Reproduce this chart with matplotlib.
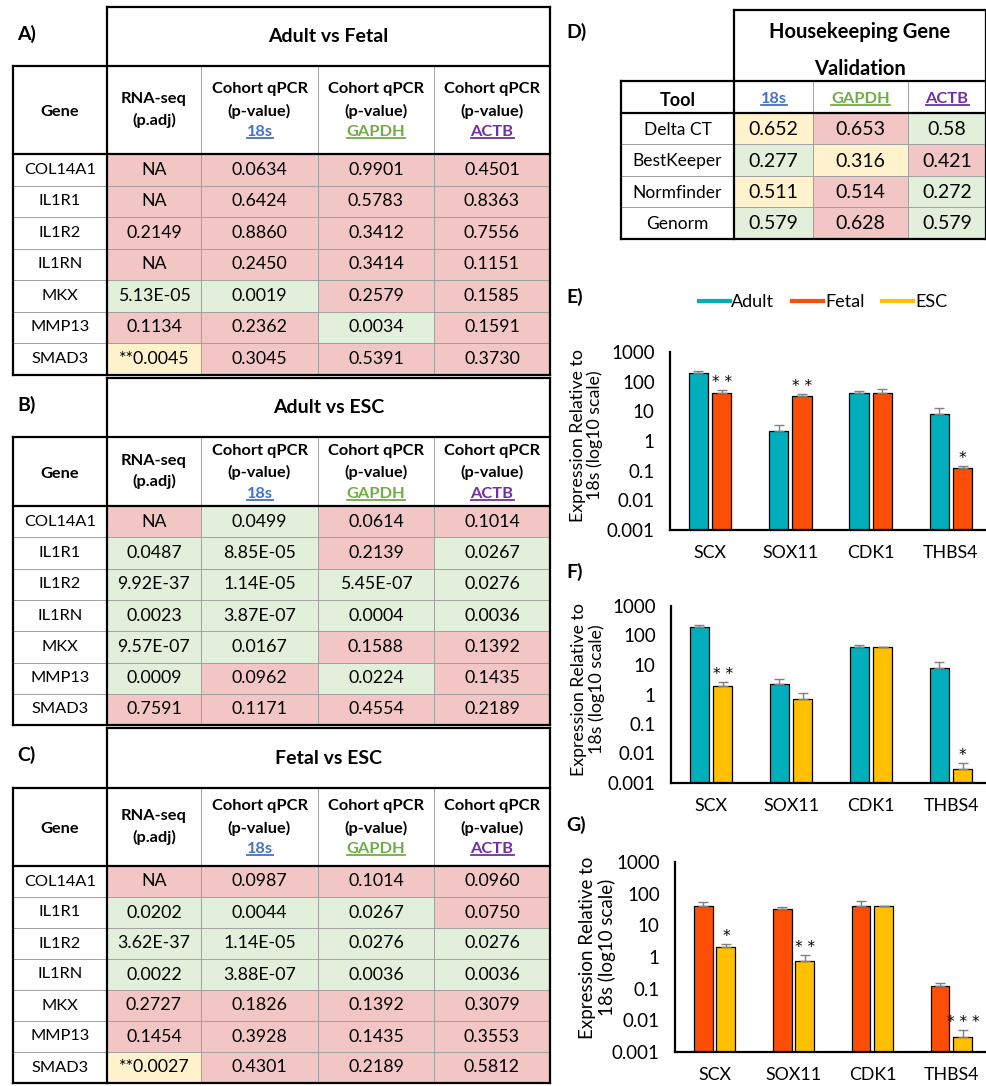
import matplotlib
matplotlib.use("Agg")
import matplotlib.pyplot as plt
from matplotlib.patches import Rectangle
from matplotlib.lines import Line2D

plt.rcParams['font.family'] = ['Lato', 'DejaVu Sans']

W, H = 987, 1086

# --------------------------
# Table data
# --------------------------
genes = ["COL14A1", "IL1R1", "IL1R2", "IL1RN", "MKX", "MMP13", "SMAD3"]
ref_genes = ["18s", "GAPDH", "ACTB"]
ref_colors = ["#4472C4", "#70AD47", "#7030A0"]

adult_fetal_vals = [
    ["NA", "0.0634", "0.9901", "0.4501"],
    ["NA", "0.6424", "0.5783", "0.8363"],
    ["0.2149", "0.8860", "0.3412", "0.7556"],
    ["NA", "0.2450", "0.3414", "0.1151"],
    ["5.13E-05", "0.0019", "0.2579", "0.1585"],
    ["0.1134", "0.2362", "0.0034", "0.1591"],
    ["**0.0045", "0.3045", "0.5391", "0.3730"],
]
adult_fetal_sig = ["rrrr", "rrrr", "rrrr", "rrrr", "ggrr", "rrgr", "yrrr"]

adult_esc_vals = [
    ["NA", "0.0499", "0.0614", "0.1014"],
    ["0.0487", "8.85E-05", "0.2139", "0.0267"],
    ["9.92E-37", "1.14E-05", "5.45E-07", "0.0276"],
    ["0.0023", "3.87E-07", "0.0004", "0.0036"],
    ["9.57E-07", "0.0167", "0.1588", "0.1392"],
    ["0.0009", "0.0962", "0.0224", "0.1435"],
    ["0.7591", "0.1171", "0.4554", "0.2189"],
]
adult_esc_sig = ["rgrr", "ggrg", "gggg", "gggg", "ggrr", "grgr", "rrrr"]

fetal_esc_vals = [
    ["NA", "0.0987", "0.1014", "0.0960"],
    ["0.0202", "0.0044", "0.0267", "0.0750"],
    ["3.62E-37", "1.14E-05", "0.0276", "0.0276"],
    ["0.0022", "3.88E-07", "0.0036", "0.0036"],
    ["0.2727", "0.1826", "0.1392", "0.3079"],
    ["0.1454", "0.3928", "0.1435", "0.3553"],
    ["**0.0027", "0.4301", "0.2189", "0.5812"],
]
fetal_esc_sig = ["rrrr", "gggr", "gggg", "gggg", "rrrr", "rrrr", "yrrr"]

tools = ["Delta CT", "BestKeeper", "Normfinder", "Genorm"]
hk_vals = [
    ["0.652", "0.653", "0.58"],
    ["0.277", "0.316", "0.421"],
    ["0.511", "0.514", "0.272"],
    ["0.579", "0.628", "0.579"],
]
hk_sig = ["yrg", "gyr", "yrg", "grg"]

SHADE = {"r": "#F2C6C5", "g": "#E2EFDA", "y": "#FFF2CC"}

# --------------------------
# Bar chart data (expression relative to 18s)
# --------------------------
bar_genes = ["SCX", "SOX11", "CDK1", "THBS4"]
adult_expr = [195, 2.2, 40, 8.2]
adult_err = [30, 1.2, 9, 4.8]
fetal_expr = [40, 33, 41, 0.125]
fetal_err = [13, 6, 17, 0.023]
esc_expr = [2.0, 0.73, 41, 0.003]
esc_err = [0.6, 0.4, 0.8, 0.0018]

stars_e = ["**", "**", "", "*"]
stars_f = ["**", "", "", "*"]
stars_g = ["*", "**", "", "***"]

COL_ADULT = "#00AFBB"
COL_FETAL = "#FC4E07"
COL_ESC = "#FFC000"

fig = plt.figure(figsize=(W / 100, H / 100), dpi=100)
ax0 = fig.add_axes([0, 0, 1, 1])
ax0.set_xlim(0, W)
ax0.set_ylim(H, 0)
ax0.axis("off")

THICK = dict(color="black", lw=1.6, solid_capstyle="projecting")
THIN = dict(color="#A0A0A0", lw=0.7)
FS = 11.8      # gene / tool names
FS_VAL = 12.8  # p-values
FS_HEAD = 11.8
underlined = []


def hline(x0, x1, y, style):
    ax0.plot([x0, x1], [y, y], **style)


def vline(x, y0, y1, style):
    ax0.plot([x, x], [y0, y1], **style)


def ref_header(x, y, k):
    t = ax0.text(x, y, ref_genes[k], ha="center", va="center", fontsize=FS_HEAD,
                 fontweight="bold", color=ref_colors[k])
    underlined.append(t)


def compare_table(label, title, top, title_h, head_h, row_h, vals, sig):
    xs = [13, 107, 201, 318, 434, 550]
    y_head = top + title_h
    y_data = y_head + head_h
    ys = [y_data + i * row_h for i in range(len(vals) + 1)]
    ax0.text(17, top + title_h / 2 - 3, label, ha="left", va="center",
             fontsize=14, fontweight="bold")
    ax0.text((xs[1] + xs[-1]) / 2, top + title_h / 2, title, ha="center",
             va="center", fontsize=14, fontweight="bold")
    for i, row in enumerate(vals):
        yc = ys[i] + row_h / 2
        ax0.text((xs[0] + xs[1]) / 2, yc, genes[i], ha="center", va="center", fontsize=FS)
        for j, v in enumerate(row):
            ax0.add_patch(Rectangle((xs[j + 1], ys[i]), xs[j + 2] - xs[j + 1], row_h,
                                    fc=SHADE[sig[i][j]], ec="none"))
            ax0.text((xs[j + 1] + xs[j + 2]) / 2, yc, v, ha="center", va="center",
                     fontsize=FS_VAL)
    # header
    yc = y_head + head_h / 2
    ax0.text((xs[0] + xs[1]) / 2, yc + 2, "Gene", ha="center", va="center",
             fontsize=FS_HEAD, fontweight="bold")
    ax0.text((xs[1] + xs[2]) / 2, yc - 11, "RNA-seq", ha="center", va="center",
             fontsize=FS_HEAD, fontweight="bold")
    ax0.text((xs[1] + xs[2]) / 2, yc + 10, "(p.adj)", ha="center", va="center",
             fontsize=FS_HEAD, fontweight="bold")
    for k in range(3):
        xc = (xs[k + 2] + xs[k + 3]) / 2
        ax0.text(xc, yc - 21, "Cohort qPCR", ha="center", va="center",
                 fontsize=FS_HEAD, fontweight="bold")
        ax0.text(xc, yc + 1, "(p-value)", ha="center", va="center",
                 fontsize=FS_HEAD, fontweight="bold")
        ref_header(xc, yc + 22, k)
    # grid
    for y in ys[1:-1]:
        hline(xs[0], xs[-1], y, THIN)
    for x in xs[2:-1]:
        vline(x, y_head, ys[-1], THIN)
    hline(xs[1], xs[-1], top, THICK)
    vline(xs[1], top, ys[-1], THICK)
    vline(xs[-1], top, ys[-1], THICK)
    hline(xs[0], xs[-1], y_head, THICK)
    hline(xs[0], xs[-1], y_data, THICK)
    hline(xs[0], xs[-1], ys[-1], THICK)
    vline(xs[0], y_head, ys[-1], THICK)


compare_table("A)", "Adult vs Fetal", 7, 59, 88, 31.5, adult_fetal_vals, adult_fetal_sig)
compare_table("B)", "Adult vs ESC", 378, 59, 69, 31.3, adult_esc_vals, adult_esc_sig)
compare_table("C)", "Fetal vs ESC", 728, 60, 78, 31.0, fetal_esc_vals, fetal_esc_sig)

# housekeeping gene validation table
dx = [621, 734, 813, 908, 986]
d_top, d_head = 10, 81
d_ys = [113 + i * 31.4 for i in range(len(tools) + 1)]
ax0.text(566, 32, "D)", ha="left", va="center", fontsize=14, fontweight="bold")
ax0.text((dx[1] + dx[-1]) / 2, 32, "Housekeeping Gene", ha="center", va="center",
         fontsize=14.5, fontweight="bold")
ax0.text((dx[1] + dx[-1]) / 2, 69, "Validation", ha="center", va="center",
         fontsize=14.5, fontweight="bold")
ax0.text((dx[0] + dx[1]) / 2, 100, "Tool", ha="center", va="center",
         fontsize=13, fontweight="bold")
for k in range(3):
    ref_header((dx[k + 1] + dx[k + 2]) / 2, 99, k)
for i, row in enumerate(hk_vals):
    yc = d_ys[i] + 31.4 / 2 + 1
    ax0.text((dx[0] + dx[1]) / 2, yc, tools[i], ha="center", va="center", fontsize=12.5)
    for j, v in enumerate(row):
        ax0.add_patch(Rectangle((dx[j + 1], d_ys[i]), dx[j + 2] - dx[j + 1], 31.4,
                                fc=SHADE[hk_sig[i][j]], ec="none"))
        ax0.text((dx[j + 1] + dx[j + 2]) / 2, yc, v, ha="center", va="center",
                 fontsize=14)
for y in d_ys[1:-1]:
    hline(dx[0], dx[-1], y, THIN)
for x in dx[2:-1]:
    vline(x, d_head, d_ys[-1], THIN)
hline(dx[1], dx[-1], d_top, THICK)
vline(dx[1], d_top, d_ys[-1], THICK)
vline(dx[-1], d_top, d_ys[-1], THICK)
hline(dx[0], dx[-1], d_head, THICK)
hline(dx[0], dx[-1], d_ys[0], THICK)
hline(dx[0], dx[-1], d_ys[-1], THICK)
vline(dx[0], d_head, d_ys[-1], THICK)


# --------------------------
# Bar charts
# --------------------------
def bar_panel(label, box, first, second, stars, label_y, ylab_pos, ylab_fs=12.8):
    left, top, bottom = box
    ax = fig.add_axes([left / W, 1 - bottom / H, (W - left) / W, (bottom - top) / H])
    ax.set_yscale("log")
    x = list(range(len(bar_genes)))
    off, bw = 0.145, 0.24
    for (vals, errs, col), sgn in ((first, -1), (second, 1)):
        xp = [xi + sgn * off for xi in x]
        ax.bar(xp, vals, width=bw, color=col, edgecolor="black", linewidth=0.9, zorder=2)
        ax.errorbar(xp, vals, yerr=[[0] * len(vals), errs], fmt="none",
                    ecolor="#808080", elinewidth=1, capsize=3.5, capthick=1, zorder=3)
    vals, errs, _ = second
    for xi, v, e, s in zip(x, vals, errs, stars):
        if s:
            ax.text(xi + off, (v + e) * 1.0, " ".join(s), ha="center", va="bottom",
                    fontsize=11, family="DejaVu Sans")
    ax.set_ylim(1e-3, 1e3)
    ax.set_xlim(-0.5, 3.45)
    ax.set_yticks([1e-3, 1e-2, 1e-1, 1, 10, 100, 1000])
    ax.set_yticklabels(["0.001", "0.01", "0.1", "1", "10", "100", "1000"])
    ax.minorticks_off()
    ax.set_xticks(x)
    ax.set_xticklabels(bar_genes)
    ax.tick_params(axis="y", length=0, pad=11, labelsize=13.5)
    ax.tick_params(axis="x", length=0, pad=11, labelsize=12.8)
    for sp in ("top", "right"):
        ax.spines[sp].set_visible(False)
    for sp in ("left", "bottom"):
        ax.spines[sp].set_linewidth(1.6)
    ax.set_facecolor("none")
    ax.set_ylabel("Expression Relative to\n18s (log10 scale)", fontsize=ylab_fs,
                  linespacing=1.1)
    ax.yaxis.set_label_coords(*ylab_pos)
    ax0.text(566, label_y, label, ha="left", va="center", fontsize=14, fontweight="bold")
    return ax


adult = (adult_expr, adult_err, COL_ADULT)
fetal = (fetal_expr, fetal_err, COL_FETAL)
esc = (esc_expr, esc_err, COL_ESC)

bar_panel("E)", (670, 352, 530), adult, fetal, stars_e, 297, (-0.21, 0.53))
bar_panel("F)", (671, 606, 783), adult, esc, stars_f, 572, (-0.21, 0.53))
bar_panel("G)", (675, 862, 1052), fetal, esc, stars_g, 825, (-0.19, 0.55), ylab_fs=13.5)

handles = [Line2D([], [], color=c, lw=3) for c in (COL_ADULT, COL_FETAL, COL_ESC)]
fig.legend(handles, ["Adult", "Fetal", "ESC"], loc="center", ncol=3,
           bbox_to_anchor=(823 / W, 1 - 302 / H), frameon=False, fontsize=13,
           handlelength=1.7, handletextpad=0.1, columnspacing=1.0)

# underline the reference gene headers
fig.canvas.draw()
renderer = fig.canvas.get_renderer()
inv = ax0.transData.inverted()
for t in underlined:
    bb = t.get_window_extent(renderer)
    (x0, y0), (x1, y1) = inv.transform([(bb.x0, bb.y0), (bb.x1, bb.y1)])
    ax0.plot([x0, x1], [y0 - 1, y0 - 1], color=t.get_color(), lw=1.3)

fig.savefig("out.png", dpi=100)
